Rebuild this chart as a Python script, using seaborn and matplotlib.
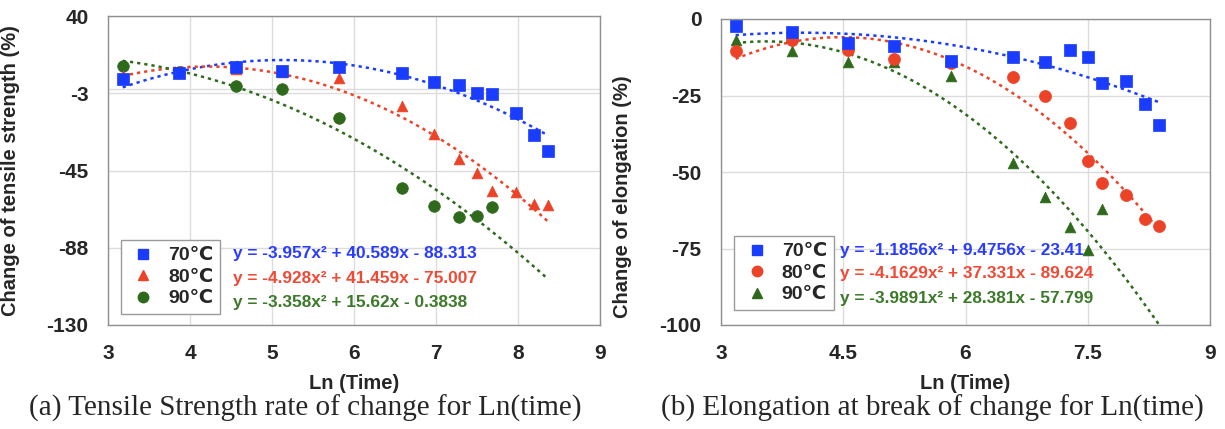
import numpy as np
import pandas as pd
import matplotlib
matplotlib.use('Agg')
import matplotlib.pyplot as plt
import seaborn as sns

# Ln(time) of each ageing step
ln_time = [3.18, 3.87, 4.56, 5.12, 5.82, 6.58, 6.98, 7.28, 7.50, 7.68, 7.97, 8.20, 8.37]

# (a) change of tensile strength (%)
ts_70 = [5.2, 8.8, 12.1, 9.7, 12.0, 8.8, 3.7, 1.9, -2.5, -3.1, -13.5, -25.6, -34.1]
ts_80 = [7.0, 9.0, 11.0, 9.0, 6.1, -9.5, -25.1, -38.5, -46.2, -56.3, -57.0, -63.4, -64.0]
ts_90 = [12.3, 9.0, 1.7, -0.3, -16.1, -54.4, -64.5, -70.7, -70.2, -65.1]

# (b) change of elongation (%)
el_70 = [-2.4, -4.3, -7.9, -8.9, -13.6, -12.5, -14.1, -10.1, -12.4, -21.0, -20.3, -27.8, -34.8]
el_80 = [-10.4, -7.0, -10.0, -13.2, -14.4, -18.8, -25.3, -34.0, -46.5, -53.7, -57.6, -65.2, -67.6]
el_90 = [-7.0, -10.3, -13.9, -14.1, -18.5, -47.1, -58.1, -68.1, -75.4, -62.1]

# quadratic trend lines shown on the chart
ts_fit = {'70': [-3.957, 40.589, -88.313], '80': [-4.928, 41.459, -75.007], '90': [-3.358, 15.62, -0.3838]}
el_fit = {'70': [-1.1856, 9.4756, -23.41], '80': [-4.1629, 37.331, -89.624], '90': [-3.9891, 28.381, -57.799]}
ts_eq = ['y = -3.957x² + 40.589x - 88.313', 'y = -4.928x² + 41.459x - 75.007', 'y = -3.358x² + 15.62x - 0.3838']
el_eq = ['y = -1.1856x² + 9.4756x - 23.41', 'y = -4.1629x² + 37.331x - 89.624', 'y = -3.9891x² + 28.381x - 57.799']

temps = ['70', '80', '90']
labels = ['70℃', '80℃', '90℃']
colors = {'70': '#1a3cff', '80': '#ec4228', '90': '#2f6a1c'}
eq_colors = {'70': '#2a3cff', '80': '#f04a36', '90': '#3c7a2a'}

sns.set_theme(style='whitegrid')
sans = ['Liberation Sans', 'DejaVu Sans']
plt.rcParams['font.family'] = sans
plt.rcParams['font.weight'] = 'bold'
plt.rcParams['axes.unicode_minus'] = False

fig = plt.figure(figsize=(12.25, 4.29), dpi=100)
W, H = 1225, 429
ax_a = fig.add_axes([108 / W, (H - 325) / H, 492 / W, 309 / H])
ax_b = fig.add_axes([721 / W, (H - 325) / H, 489 / W, 306 / H])


def draw_panel(ax, series, fits, eqs, markers, sizes):
    xs = np.linspace(ln_time[0], ln_time[-1], 200)
    for t in temps:
        sns.lineplot(x=xs, y=np.polyval(fits[t], xs), ax=ax, color=colors[t],
                     linewidth=1.8, linestyle=(0, (1.3, 1.6)), zorder=2)
    handles = {}
    for t in ['90', '80', '70']:
        vals = series[t]
        df = pd.DataFrame({'x': ln_time[:len(vals)], 'y': vals})
        sns.scatterplot(data=df, x='x', y='y', ax=ax, color=colors[t], marker=markers[t],
                        s=sizes[t], edgecolor=colors[t], linewidth=0.5, zorder=3)
        handles[t] = plt.Line2D([], [], linestyle='', marker=markers[t], color=colors[t],
                                markersize=7.5)
    ax.set_xlim(3, 9)
    ax.grid(color='#dcdcdc', linewidth=1)
    for sp in ax.spines.values():
        sp.set_color('#8f8f8f')
        sp.set_linewidth(1)
    ax.tick_params(length=0, labelsize=15, pad=14)
    for lab in ax.get_xticklabels() + ax.get_yticklabels():
        lab.set_fontweight('bold')
    return handles


h_a = draw_panel(ax_a, {'70': ts_70, '80': ts_80, '90': ts_90}, ts_fit, ts_eq,
                 {'70': 's', '80': '^', '90': 'o'}, {'70': 70, '80': 60, '90': 70})
ax_a.axhline(0, color='#dcdcdc', linewidth=1, zorder=1)
ax_a.set_ylim(-130, 40)
ax_a.set_yticks([-130, -87.5, -45, -2.5, 40])
ax_a.set_yticklabels(['-130', '-88', '-45', '-3', '40'])
ax_a.set_xticks([3, 4, 5, 6, 7, 8, 9])

h_b = draw_panel(ax_b, {'70': el_70, '80': el_80, '90': el_90}, el_fit, el_eq,
                 {'70': 's', '80': 'o', '90': '^'}, {'70': 70, '80': 75, '90': 60})
ax_b.set_ylim(-100, 0)
ax_b.set_yticks([-100, -75, -50, -25, 0])
ax_b.set_yticklabels(['-100', '-75', '-50', '-25', '0'])
ax_b.set_xticks([3, 4.5, 6, 7.5, 9])
ax_b.set_xticklabels(['3', '4.5', '6', '7.5', '9'])

for ax, h, eqs, leg_xy, eq_x, eq_ys in [
        (ax_a, h_a, ts_eq, (0.026, 0.275), 0.254, [0.233, 0.149, 0.074]),
        (ax_b, h_b, el_eq, (0.027, 0.291), 0.243, [0.242, 0.167, 0.085])]:
    leg = ax.legend([h[t] for t in temps], labels, loc='upper left', bbox_to_anchor=leg_xy,
                    frameon=True, fancybox=False, edgecolor='#9a9a9a', framealpha=1,
                    prop={'family': sans, 'weight': 'bold', 'size': 14}, borderaxespad=0,
                    handletextpad=0.5, labelspacing=0.2, borderpad=0.35, handlelength=1.6)
    leg.get_frame().set_linewidth(1)
    for t, e, y in zip(temps, eqs, eq_ys):
        ax.text(eq_x, y, e, transform=ax.transAxes, ha='left', va='center',
                color=eq_colors[t], fontsize=12.4, fontweight='bold')

ax_a.set_ylabel('Change of tensile strength (%)', fontsize=14.5, fontweight='bold')
ax_a.yaxis.set_label_coords(-0.179, 0.5)
ax_b.set_ylabel('Change of elongation (%)', fontsize=14.5, fontweight='bold')
ax_b.yaxis.set_label_coords(-0.182, 0.418)
for ax in (ax_a, ax_b):
    ax.set_xlabel('Ln (Time)', fontsize=14.5, fontweight='bold', va='center')
    ax.xaxis.set_label_coords(0.5, -0.19)

fig.text(305 / W, 1 - 408 / H, '(a) Tensile Strength rate of change for Ln(time)',
         ha='center', va='center', fontsize=21, family='Liberation Serif', fontweight='normal')
fig.text(932 / W, 1 - 408 / H, '(b) Elongation at break of change for Ln(time)',
         ha='center', va='center', fontsize=21, family='Liberation Serif', fontweight='normal')

fig.savefig('out.png', dpi=100, facecolor='white')
